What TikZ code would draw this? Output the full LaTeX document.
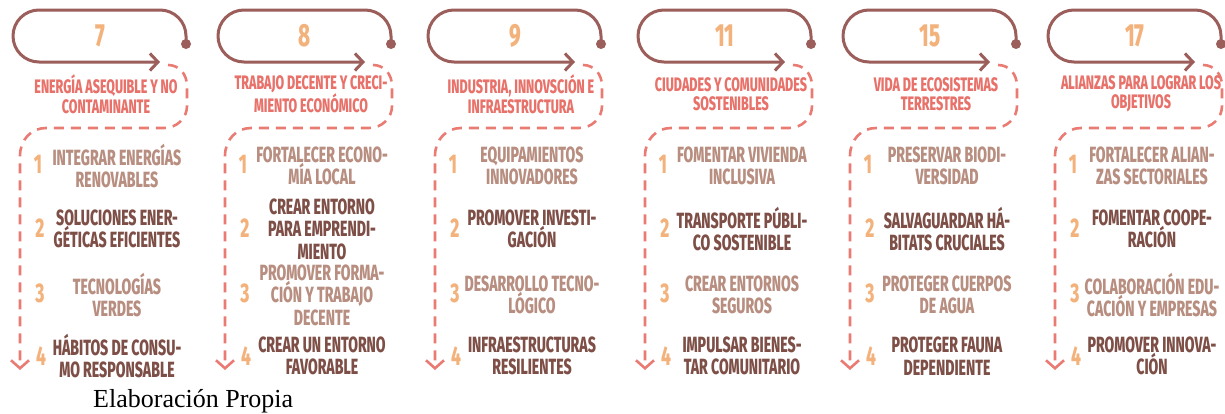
\documentclass[tikz,border=0pt]{standalone}
\usepackage{fontspec}
\usetikzlibrary{arrows.meta}
\newfontfamily\condf{Fira Sans ExtraBold}[FakeStretch=0.64]
\newfontfamily\serifel{Liberation Serif}
\definecolor{loopc}{HTML}{9B5E5A}
\definecolor{numc}{HTML}{F3B27B}
\definecolor{titlec}{HTML}{E8716A}
\definecolor{dashc}{HTML}{EA7B73}
\definecolor{lightc}{HTML}{B88E80}
\definecolor{darkc}{HTML}{7E4F47}
\tikzset{
  looppath/.style={draw=loopc, line width=3pt, line cap=round, line join=round},
  dashpath/.style={draw=dashc, line width=2.6pt, dash pattern=on 10pt off 7pt},
  bignum/.style={font=\condf\fontsize{32}{32}\selectfont, text=numc, inner sep=0pt},
  ttl/.style={font=\condf\fontsize{19.5}{19.5}\selectfont, text=titlec, align=center, inner sep=0pt},
  itm/.style={font=\condf\fontsize{22}{22.5}\selectfont, align=center, inner sep=0pt},
  itmlight/.style={itm, text=lightc},
  itmdark/.style={itm, text=darkc},
  inum/.style={font=\condf\fontsize{27}{27}\selectfont, text=numc, inner sep=0pt},
}
\newcommand\sdgcol[8]{%
  \begin{scope}[shift={(#2,0)}]
    \coordinate (dot#1) at (174,44);
    \coordinate (tip#1) at (148,62);
    \coordinate (dstart#1) at (156,65);
    \coordinate (dend#1) at (8,370);
    \draw[looppath, -{Straight Barb[length=8pt,width=17pt]}]
      (dot#1) -- (174,36) .. controls (174,21.64) and (162.36,10) .. (148,10)
      -- (27,10) .. controls (12.64,10) and (1,21.64) .. (1,36)
      .. controls (1,50.36) and (12.64,62) .. (27,62) -- (tip#1);
    \fill[loopc] (dot#1) circle[radius=5pt];
    \draw[dashpath, -{Straight Barb[length=8pt,width=18pt]}]
      (dstart#1) .. controls (167,65) and (175,74) .. (175,86) -- (175,106)
      .. controls (175,118) and (165,128) .. (152,128) -- (34,128)
      .. controls (19,128) and (8,140) .. (8,156) -- (dend#1);
    \node[bignum] (big#1) at (88,36) {#3};
    \node[ttl] (ttl#1) at (94,94) {#4};
    \node[inum] (na#1) at (26,164) {1};
    \node[inum] (nb#1) at (28,228) {2};
    \node[inum] (nc#1) at (28,293) {3};
    \node[inum] (nd#1) at (29,356) {4};
    \node[itmlight] (ia#1) at (105,166) {#5};
    \node[itmdark] (ib#1) at (105,229) {#6};
    \node[itmlight] (ic#1) at (105,295) {#7};
    \node[itmdark] (id#1) at (105,356) {#8};
  \end{scope}%
}
\begin{document}
\begin{tikzpicture}[x=1pt,y=-1pt]
\useasboundingbox (0,0) rectangle (1225,413);
\fill[white] (0,0) rectangle (1225,413);
\sdgcol{a}{12}{7}{ENERGÍA ASEQUIBLE Y NO\\CONTAMINANTE}
  {INTEGRAR ENERGÍAS\\RENOVABLES}{SOLUCIONES ENER-\\GÉTICAS EFICIENTES}
  {TECNOLOGÍAS\\VERDES}{HÁBITOS DE CONSU-\\MO RESPONSABLE}
\sdgcol{b}{217}{8}{TRABAJO DECENTE Y CRECI-\\MIENTO ECONÓMICO}
  {FORTALECER ECONO-\\MÍA LOCAL}{CREAR ENTORNO\\PARA EMPRENDI-\\MIENTO}
  {PROMOVER FORMA-\\CIÓN Y TRABAJO\\DECENTE}{CREAR UN ENTORNO\\FAVORABLE}
\sdgcol{c}{427}{9}{INDUSTRIA, INNOVSCIÓN E\\INFRAESTRUCTURA}
  {EQUIPAMIENTOS\\INNOVADORES}{PROMOVER INVESTI-\\GACIÓN}
  {DESARROLLO TECNO-\\LÓGICO}{INFRAESTRUCTURAS\\RESILIENTES}
\sdgcol{d}{637}{11}{CIUDADES Y COMUNIDADES\\SOSTENIBLES}
  {FOMENTAR VIVIENDA\\INCLUSIVA}{TRANSPORTE PÚBLI-\\CO SOSTENIBLE}
  {CREAR ENTORNOS\\SEGUROS}{IMPULSAR BIENES-\\TAR COMUNITARIO}
\sdgcol{e}{842}{15}{VIDA DE ECOSISTEMAS\\TERRESTRES}
  {PRESERVAR BIODI-\\VERSIDAD}{SALVAGUARDAR HÁ-\\BITATS CRUCIALES}
  {PROTEGER CUERPOS\\DE AGUA}{PROTEGER FAUNA\\DEPENDIENTE}
\sdgcol{f}{1047}{17}{ALIANZAS PARA LOGRAR LOS\\OBJETIVOS}
  {FORTALECER ALIAN-\\ZAS SECTORIALES}{FOMENTAR COOPE-\\RACIÓN}
  {COLABORACIÓN EDU-\\CACIÓN Y EMPRESAS}{PROMOVER INNOVA-\\CIÓN}
\node[anchor=base west, inner sep=0pt, font=\serifel\fontsize{26}{26}\selectfont] (src) at (93,407) {Elaboración Propia};
\end{tikzpicture}
\end{document}
